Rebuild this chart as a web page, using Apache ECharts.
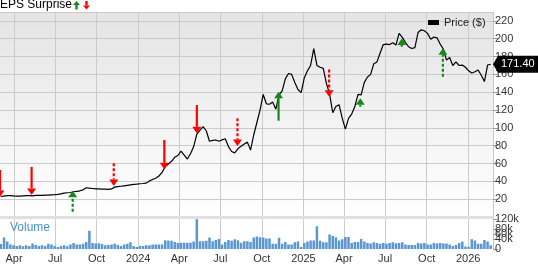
<!DOCTYPE html>
<html><head><meta charset="utf-8">
<script src="https://cdn.jsdelivr.net/npm/echarts@6/dist/echarts.min.js"></script>
<style>html,body{margin:0;padding:0;background:#fff}#c{width:538px;height:264px}</style>
</head><body><div id="c"></div>
<script>
// ---- data ----
const firstWeek = '2023-03-03';           // first weekly close
const priceValues = [
 23,23.5,24,24,23.7,23.5,23.5,23.8,24,24,
 23.8,24.2,24.3,24.2,24.5,24.6,24.8,25,25.4,26,
 26.8,27.2,27.5,28.3,28.8,29.4,30.5,32.8,32.3,32,
 31.6,31.5,31.3,31.2,31,31.5,33.5,34,34.5,35,
 35.5,36,36.5,36.8,37.3,37.6,38,40.5,42,43.5,
 46,50,56.5,59.5,62.5,67,69,74,69.5,65,
 71,79,93,97.5,101.3,96.5,85,86,86.4,85,
 86.5,87.8,79,73.5,72,76.5,79.5,82,84,75,
 92,106,120,137.5,127,126.5,129,121,137,141.5,
 155,161,160,151,143,139.5,156,164,170,189,
 170,168,166.8,150,138,117,124,126,111,98.5,
 110.7,115.5,124,137.5,137,151,157,160,172,174,
 184,193.5,194,193.5,195.5,193,206,201.5,196,191,
 189,190,207,210,209,206,199.5,202,201,194,
 188.5,176,179,170,174,170,170.5,168,164,161.5,
 163,165,159,152,170.5,171.4
];
const volumeK = [
 20,46,30,18,15,12,15,11,15,12,
 22,16,12,15,12,21,18,12,8,12,
 15,11,18,24,18,18,21,28,73,24,
 22,23,20,15,16,18,21,16,12,18,
 21,27,12,8,12,12,15,15,18,18,
 18,18,35,34,33,28,24,25,25,25,
 25,30,119,31,31,33,46,31,36,40,
 18,28,36,33,39,35,25,31,31,
 28,46,50,47,46,42,
 42,21,21,45,21,28,18,18,27,30,
 8,24,30,34,34,91,33,27,27,58,
 52,47,34,39,48,48,24,28,28,40,
 30,24,22,27,24,21,24,21,24,27,
 23,24,27,18,16,16,16,24,22,24,
 18,18,24,22,24,22,22,18,12,16,
 24,30,10,9,39,34,21,21,36,30,
 15
];
const axisStart = '2023-03-01';
const axisEnd = '2026-02-25';
const quarterTicks = ['2023-04-01','2023-07-01','2023-10-01','2024-01-01','2024-04-01','2024-07-01','2024-10-01','2025-01-01','2025-04-01','2025-07-01','2025-10-01','2026-01-01'];
const quarterLabels = ['Apr','Jul','Oct','2024','Apr','Jul','Oct','2025','Apr','Jul','Oct','2026'];
const volumeTickValues = [0,20,40,60,80,100,120];
// EPS surprise arrows: date, price at arrow tip, price at arrow tail, direction, dashed
const epsDates = ['2023-03-01','2023-05-10','2023-08-09','2023-11-08','2024-02-28','2024-05-10','2024-08-08','2024-11-07','2025-02-27','2025-05-07','2025-08-07','2025-11-06'];
const epsTip   = [22.4,24.7,29.5,34.8,53.5,93.9,79.6,140.5,134.9,133.1,200.4,189.2];
const epsTail  = [52.7,56.1,5.9,60.2,86.4,125.6,110.7,108,165.6,123.7,191,157.3];
const epsDir   = ['down','down','up','down','down','down','down','up','down','up','up','up'];
const epsDashed= [false,false,true,true,false,false,true,false,true,true,true,true];
const priceTicks = {min:0, max:230, interval:20};
const volTicks = {min:0, max:120, interval:20};

// ---- build ----
const DAY = 864e5;
const t = s => Date.parse(s + 'T00:00:00Z');
const w0 = t(firstWeek);
const weekTimes = priceValues.map((_, i) => w0 + i * 7 * DAY);
const priceData = priceValues.map((v, i) => [weekTimes[i], v]);
const volData = volumeK.map((v, i) => [weekTimes[i], v]);
const tickTimes = quarterTicks.map(t);
const epsData = epsDates.map((d, i) => [t(d), epsTip[i], epsTail[i], epsDir[i] === 'up' ? 1 : 0, epsDashed[i] ? 1 : 0]);
const FONT = 'Liberation Sans, Arial, sans-serif';
const fmtX = v => { for (let k = 0; k < tickTimes.length; k++) if (Math.abs(tickTimes[k] - v) < DAY) return quarterLabels[k]; return ''; };

const chart = echarts.init(document.getElementById('c'), null, {renderer: 'canvas'});
const xCommon = {type: 'value', min: t(axisStart), max: t(axisEnd)};
chart.setOption({
  animation: false,
  backgroundColor: '#fff',
  textStyle: {fontFamily: FONT},
  title: [
    {text: 'EPS Surprise', left: 0, top: -1, padding: 0, textStyle: {fontSize: 12, fontWeight: 'normal', color: '#000', fontFamily: FONT}},
    {text: 'Volume', left: 10, top: 222, padding: 0, textStyle: {fontSize: 12, fontWeight: 'normal', color: '#4a8fcc', fontFamily: FONT}}
  ],
  legend: {data: ['Price ($)'], left: 428, top: 17, padding: 0, icon: 'rect', itemWidth: 11, itemHeight: 5, itemGap: 5,
    textStyle: {fontSize: 11, color: '#222', fontFamily: FONT}},
  grid: [
    {left: 0, right: 45, top: 12, bottom: 47, show: true, borderWidth: 0,
     backgroundColor: {type: 'linear', x: 0, y: 0, x2: 0, y2: 1, colorStops: [{offset: 0, color: '#e4e4e4'}, {offset: 1, color: '#ffffff'}]}},
    {left: 0, right: 45, top: 219, bottom: 12}
  ],
  xAxis: [
    Object.assign({gridIndex: 0,
      axisLabel: {show: false},
      axisTick: {show: false, customValues: tickTimes},
      axisLine: {show: true, lineStyle: {color: '#e0e0e0', width: 3}},
      splitLine: {show: true, lineStyle: {color: '#cbcbcb', width: 1}}}, xCommon),
    Object.assign({gridIndex: 1,
      axisLabel: {show: true, customValues: tickTimes, formatter: fmtX, fontSize: 11, color: '#333', margin: 4, fontFamily: FONT, hideOverlap: false},
      axisTick: {show: false, customValues: tickTimes},
      axisLine: {show: false},
      splitLine: {show: true, lineStyle: {color: '#cbcbcb', width: 1}}}, xCommon)
  ],
  yAxis: [
    {type: 'value', gridIndex: 0, position: 'right', min: priceTicks.min, max: priceTicks.max, interval: priceTicks.interval,
     axisLine: {show: true, lineStyle: {color: '#c8c8c8'}},
     axisTick: {show: true, length: 5, lineStyle: {color: '#999'}},
     axisLabel: {fontSize: 11, color: '#333', margin: 2, showMinLabel: false, showMaxLabel: false, fontFamily: FONT},
     splitLine: {show: true, lineStyle: {color: '#cbcbcb', width: 1}}},
    {type: 'value', gridIndex: 1, position: 'right', min: volTicks.min, max: volTicks.max, interval: volTicks.interval,
     axisLine: {show: true, lineStyle: {color: '#c8c8c8'}},
     axisTick: {show: true, length: 5, lineStyle: {color: '#999'}, customValues: volumeTickValues},
     axisLabel: {fontSize: 11, color: '#333', margin: 2, fontFamily: FONT, hideOverlap: false,
       showMinLabel: true, showMaxLabel: true, customValues: volumeTickValues,
       formatter: v => v === 0 ? '0' : v + 'k'},
     splitLine: {show: false}}
  ],
  series: [
    {name: 'Price ($)', type: 'line', xAxisIndex: 0, yAxisIndex: 0, data: priceData, showSymbol: false, symbol: 'none',
     color: '#000', lineStyle: {color: '#000', width: 1.2}, z: 3},
    {name: 'Volume', type: 'bar', xAxisIndex: 1, yAxisIndex: 1, data: volData, barWidth: 2.5,
     itemStyle: {color: '#5a97d2'}, z: 2},
    {name: 'EPS', type: 'custom', xAxisIndex: 0, yAxisIndex: 0, data: epsData, z: 5, clip: false,
     encode: {x: 0, y: 1},
     renderItem: function (params, api) {
       const tip = api.coord([api.value(0), api.value(1)]);
       const tail = api.coord([api.value(0), api.value(2)]);
       const up = api.value(3) === 1;
       const dashed = api.value(4) === 1;
       const color = up ? '#14891a' : '#ff0000';
       const headH = 6.5, headW = 4.5;
       const baseY = up ? tip[1] + headH : tip[1] - headH;
       return {type: 'group', children: [
         {type: 'line', shape: {x1: tip[0], y1: tail[1], x2: tip[0], y2: baseY},
          style: {stroke: color, lineWidth: 2.2, lineDash: dashed ? [3, 2] : null}},
         {type: 'polygon', shape: {points: [[tip[0], tip[1]], [tip[0] - headW, baseY], [tip[0] + headW, baseY]]},
          style: {fill: color}}
       ]};
     }}
  ]
});

// last price tag at the right axis, positioned through the axis scale
const lastPrice = priceValues[priceValues.length - 1];
const ly = chart.convertToPixel({yAxisIndex: 0}, lastPrice);
const gx = 493;
chart.setOption({
  graphic: [
    // title arrows
    {type: 'polygon', shape: {points: [[76.5, 1], [73, 5], [80, 5]]}, style: {fill: '#14891a'}},
    {type: 'rect', shape: {x: 75.3, y: 5, width: 2.4, height: 4.5}, style: {fill: '#14891a'}},
    {type: 'rect', shape: {x: 85.3, y: 1, width: 2.4, height: 4.5}, style: {fill: '#ff0000'}},
    {type: 'polygon', shape: {points: [[86.5, 9.5], [83, 5.5], [90, 5.5]]}, style: {fill: '#ff0000'}},
    // price tag
    {type: 'polygon', shape: {points: [[gx, ly], [gx + 5, ly - 8.5], [538, ly - 8.5], [538, ly + 8.5], [gx + 5, ly + 8.5]]},
     style: {fill: '#000'}, z: 10},
    {type: 'text', x: gx + 8, y: ly, z: 11,
     style: {text: lastPrice.toFixed(2), fill: '#fff', fontSize: 11, fontFamily: FONT, verticalAlign: 'middle', align: 'left'}}
  ]
});
</script>
</body></html>
